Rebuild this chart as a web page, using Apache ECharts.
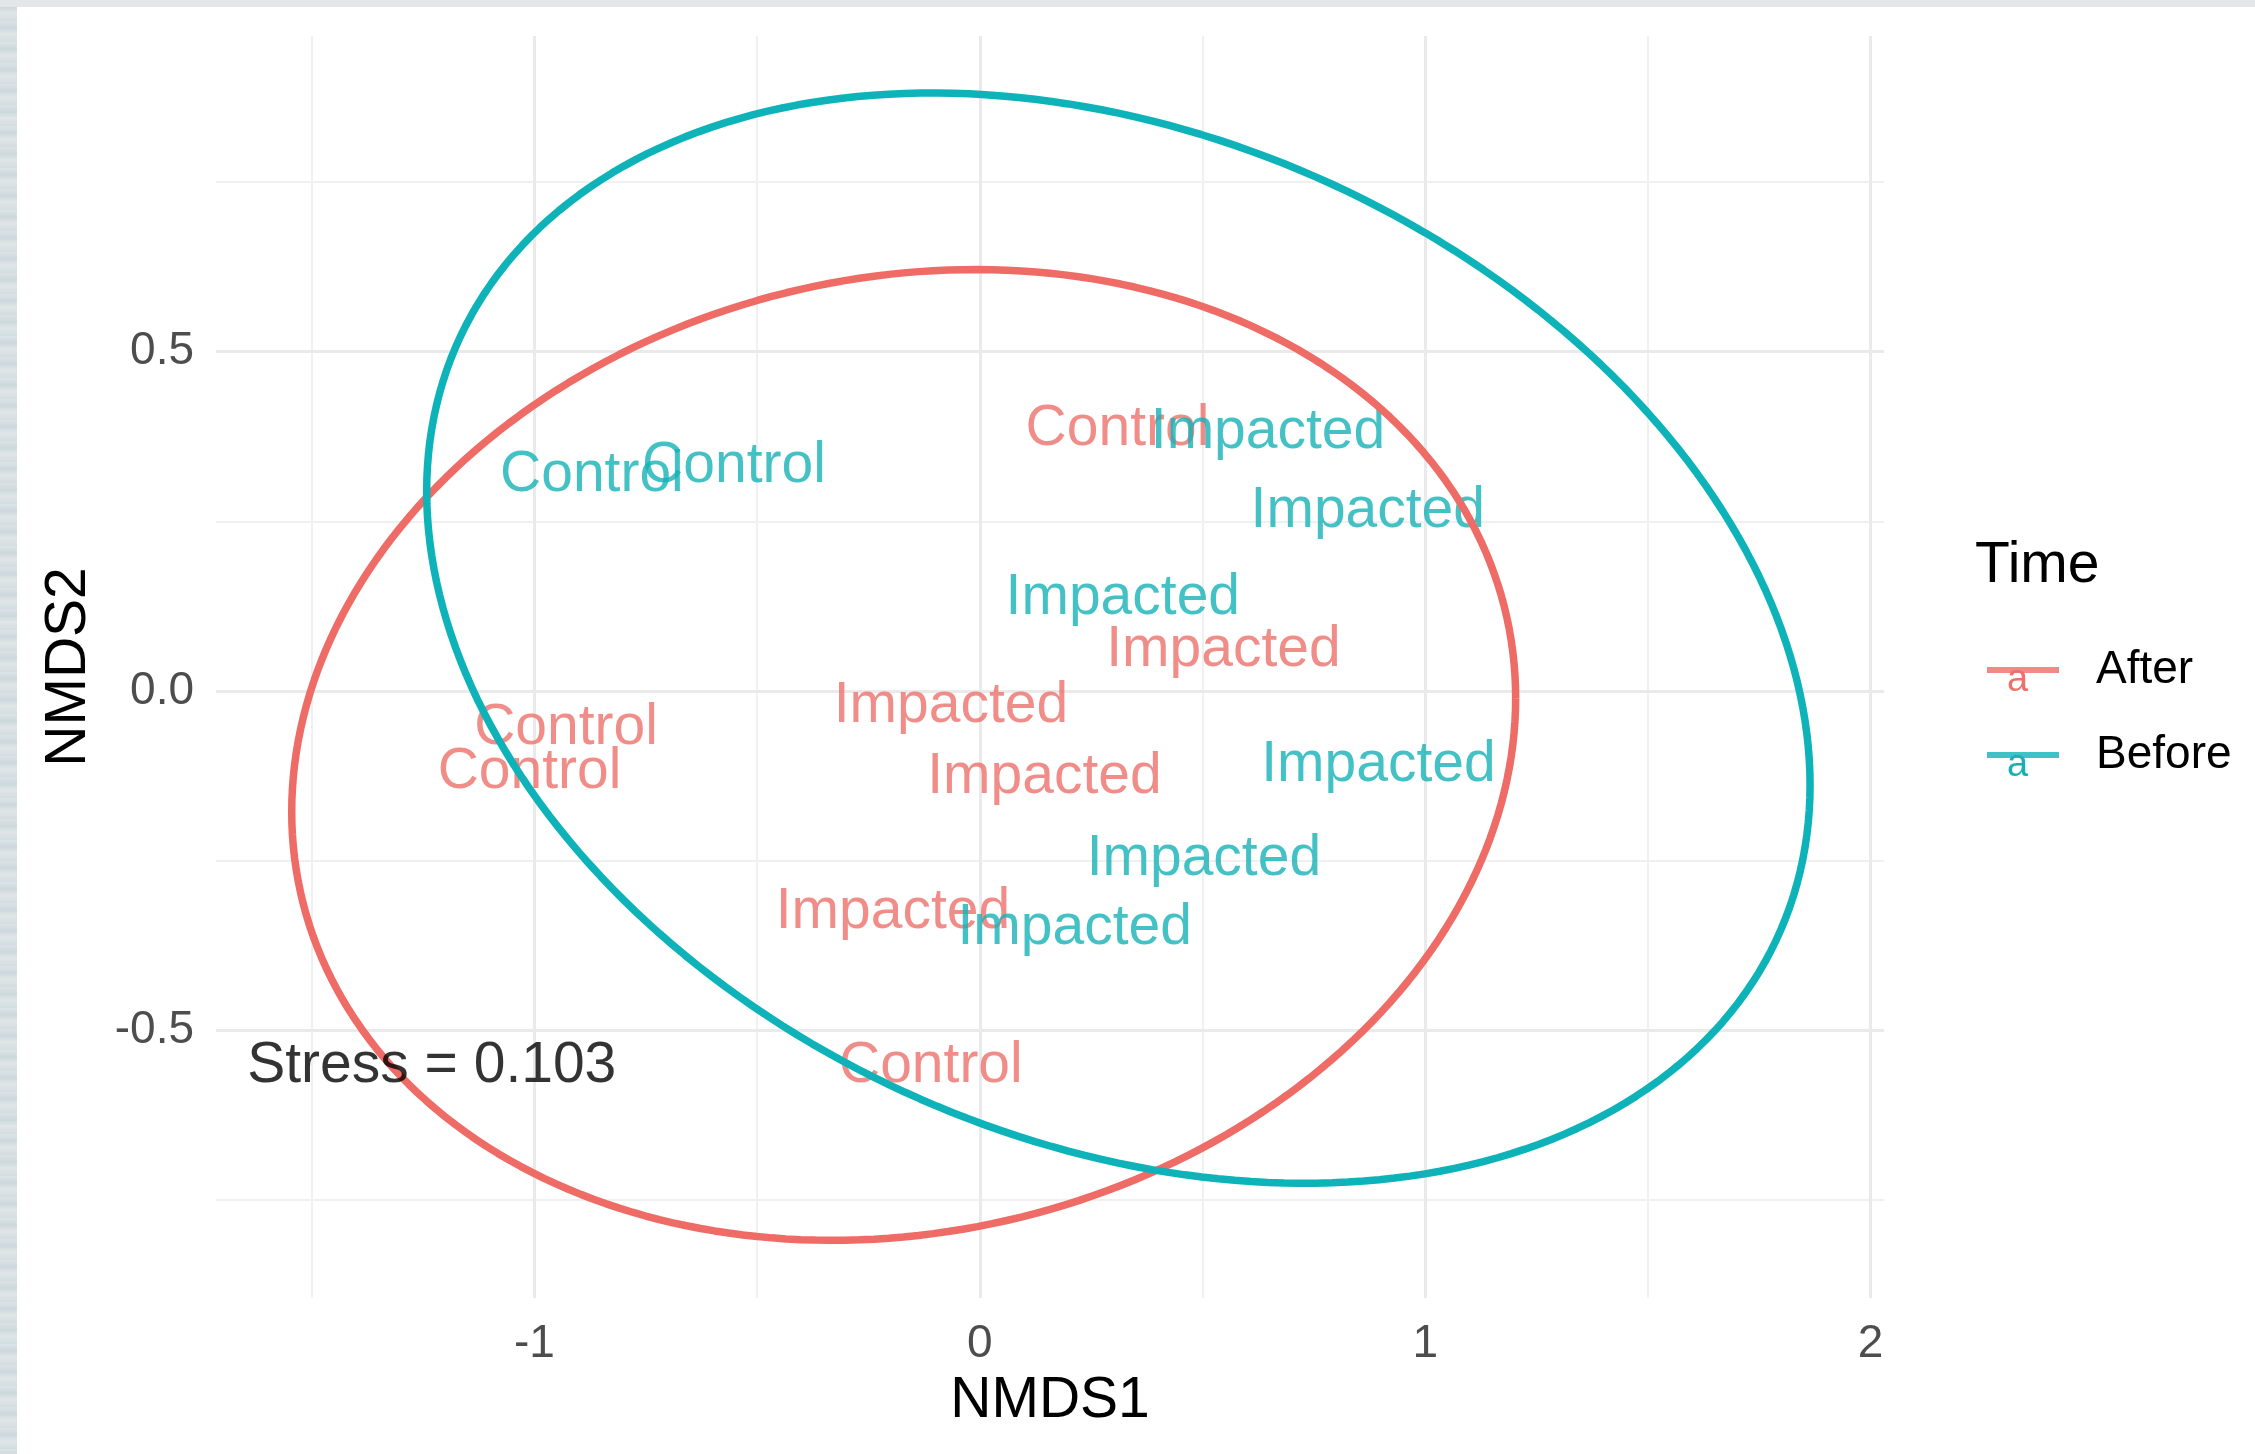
<!DOCTYPE html>
<html>
<head>
<meta charset="utf-8">
<script src="https://cdn.jsdelivr.net/npm/echarts@6/dist/echarts.min.js"></script>
<style>
html,body{margin:0;padding:0;background:#ffffff;width:2255px;height:1454px;overflow:hidden;}
#edgeL{position:absolute;left:0;top:0;width:17px;height:1454px;
  background:repeating-linear-gradient(180deg,#dbe3e6 0px,#cdd8dc 7px,#dfe6e8 13px,#d3dde0 21px);}
#edgeT{position:absolute;left:0;top:0;width:2255px;height:7px;background:#e4e7ea;}
#chart{position:absolute;left:0;top:0;width:2255px;height:1454px;}
</style>
</head>
<body>
<div id="edgeL"></div>
<div id="edgeT"></div>
<div id="chart"></div>
<script>
// ---------- data ----------
const xTickValues = [-1, 0, 1, 2];
const yTickValues = [-0.5, 0, 0.5];
const xMinorGrid = [-1.5, -0.5, 0.5, 1.5];
const yMinorGrid = [-0.75, -0.25, 0.25, 0.75];
const xRange = [-1.715, 2.03];
const yRange = [-0.894, 0.965];

const groups = ['After', 'Before'];

const afterSite = ['Control', 'Control', 'Control', 'Impacted', 'Impacted', 'Impacted', 'Impacted', 'Control'];
const afterX    = [0.309, -0.929, -1.011, 0.547, -0.065, 0.145, -0.195, -0.110];
const afterY    = [0.386, -0.055, -0.120, 0.060, -0.023, -0.127, -0.326, -0.552];

const beforeSite = ['Control', 'Control', 'Impacted', 'Impacted', 'Impacted', 'Impacted', 'Impacted', 'Impacted'];
const beforeX    = [-0.871, -0.552, 0.647, 0.871, 0.321, 0.895, 0.503, 0.213];
const beforeY    = [0.318, 0.331, 0.381, 0.265, 0.136, -0.110, -0.248, -0.350];

// 95% ellipses (After, Before): centre, half extents, x-y coupling
const ellipseCX = [-0.171, 0.311];
const ellipseCY = [-0.094, 0.078];
const ellipseHalfW = [1.374, 1.553];
const ellipseHalfH = [0.715, 0.803];
const ellipseCov = [0.115, -0.336];

const stressText = 'Stress = 0.103';
const stressPos = [-1.645, -0.553];

// ---------- styling ----------
const TEXT_COLORS = ['#EE706B', '#14B2B6'];
const LINE_COLORS = ['#EE6B66', '#0DB3B8'];
const FONT = '"Liberation Sans", Arial, Helvetica, sans-serif';

function ellipsePath(i) {
  const cx = ellipseCX[i], cy = ellipseCY[i], w = ellipseHalfW[i], h = ellipseHalfH[i], k = ellipseCov[i];
  const c = k / w, d = Math.sqrt(h * h - c * c);
  const pts = [];
  const n = 260;
  for (let j = 0; j <= n; j++) {
    const t = 2 * Math.PI * j / n;
    pts.push([cx + w * Math.cos(t), cy + c * Math.cos(t) + d * Math.sin(t)]);
  }
  return pts;
}

function labelData(xs, ys, names) {
  return xs.map((x, i) => ({ name: names[i], value: [x, ys[i]] }));
}

function labelSeries(name, data, color) {
  return {
    name: name, type: 'scatter', z: 3,
    data: data, symbolSize: 1,
    itemStyle: { color: 'rgba(0,0,0,0)' },
    label: {
      show: true, position: 'inside', formatter: '{b}',
      fontSize: 57, fontFamily: FONT, color: color,
      textBorderWidth: 0, textBorderColor: 'transparent'
    },
    emphasis: { disabled: true }, silent: true, legendHoverLink: false
  };
}

function gridSeries(xs, ys, width, color) {
  return {
    type: 'scatter', data: [], z: 1, silent: true,
    markLine: {
      z: 1, silent: true, symbol: ['none', 'none'], animation: false,
      label: { show: false },
      lineStyle: { type: 'solid', width: width, color: color },
      emphasis: { disabled: true },
      data: xs.map(v => ({ xAxis: v })).concat(ys.map(v => ({ yAxis: v })))
    }
  };
}

const chart = echarts.init(document.getElementById('chart'), null, { renderer: 'canvas' });

const option = {
  animation: false,
  backgroundColor: 'transparent',
  textStyle: { fontFamily: FONT },
  grid: { left: 216, right: 2255 - 1884, top: 36, bottom: 1454 - 1298, containLabel: false },
  title: {
    text: 'Time', left: 1975, top: 538, padding: 0,
    textStyle: { fontSize: 57, fontWeight: 'normal', color: '#000', fontFamily: FONT }
  },
  legend: {
    orient: 'vertical', left: 1982, top: 637,
    itemWidth: 72, itemHeight: 6, itemGap: 29, icon: 'rect',
    selectedMode: false,
    data: [
      { name: groups[0], icon: 'rect', itemStyle: { color: LINE_COLORS[0] } },
      { name: groups[1], icon: 'rect', itemStyle: { color: LINE_COLORS[1] } }
    ],
    textStyle: { fontSize: 46, color: '#000', fontFamily: FONT, lineHeight: 56, padding: [0, 0, 0, 32] }
  },
  xAxis: {
    type: 'value', min: xRange[0], max: xRange[1],
    name: 'NMDS1', nameLocation: 'middle', nameGap: 75,
    nameTextStyle: { fontSize: 57, color: '#000', fontFamily: FONT },
    axisLine: { show: false, onZero: false },
    axisTick: { show: false },
    splitLine: { show: false },
    axisLabel: {
      customValues: xTickValues, margin: 23,
      fontSize: 46, color: '#4D4D4D', fontFamily: FONT,
      formatter: v => String(Math.round(v))
    }
  },
  yAxis: {
    type: 'value', min: yRange[0], max: yRange[1],
    name: 'NMDS2', nameLocation: 'middle', nameGap: 118, nameRotate: 90,
    nameTextStyle: { fontSize: 57, color: '#000', fontFamily: FONT },
    axisLine: { show: false, onZero: false },
    axisTick: { show: false },
    splitLine: { show: false },
    axisLabel: {
      customValues: yTickValues, margin: 22,
      fontSize: 46, color: '#4D4D4D', fontFamily: FONT,
      formatter: v => v.toFixed(1)
    }
  },
  series: [
    gridSeries(xMinorGrid, yMinorGrid, 2, '#F0F0F0'),
    gridSeries(xTickValues, yTickValues, 3, '#EAEAEA'),
    labelSeries('After', labelData(afterX, afterY, afterSite), TEXT_COLORS[0]),
    labelSeries('Before', labelData(beforeX, beforeY, beforeSite), TEXT_COLORS[1]),
    {
      name: 'After', type: 'line', z: 4, data: ellipsePath(0), showSymbol: false, symbol: 'none',
      clip: false, smooth: false, silent: true,
      lineStyle: { width: 7.5, color: LINE_COLORS[0] }, itemStyle: { color: LINE_COLORS[0] },
      emphasis: { disabled: true }
    },
    {
      name: 'Before', type: 'line', z: 5, data: ellipsePath(1), showSymbol: false, symbol: 'none',
      clip: false, smooth: false, silent: true,
      lineStyle: { width: 7.5, color: LINE_COLORS[1] }, itemStyle: { color: LINE_COLORS[1] },
      emphasis: { disabled: true }
    },
    {
      type: 'scatter', z: 6, silent: true, symbolSize: 1,
      itemStyle: { color: 'rgba(0,0,0,0)' },
      data: [{ name: stressText, value: stressPos }],
      label: {
        show: true, position: 'inside', align: 'left', formatter: '{b}',
        fontSize: 57, color: '#000', fontFamily: FONT,
        textBorderWidth: 0, textBorderColor: 'transparent'
      },
      emphasis: { disabled: true }
    }
  ],
  graphic: [
    { type: 'text', left: 2018 - 11, top: 662, silent: true, z: 100,
      style: { text: 'a', fontSize: 38, fill: TEXT_COLORS[0], fontFamily: FONT } },
    { type: 'text', left: 2018 - 11, top: 747, silent: true, z: 100,
      style: { text: 'a', fontSize: 38, fill: TEXT_COLORS[1], fontFamily: FONT } }
  ]
};

chart.setOption(option);
</script>
</body>
</html>
